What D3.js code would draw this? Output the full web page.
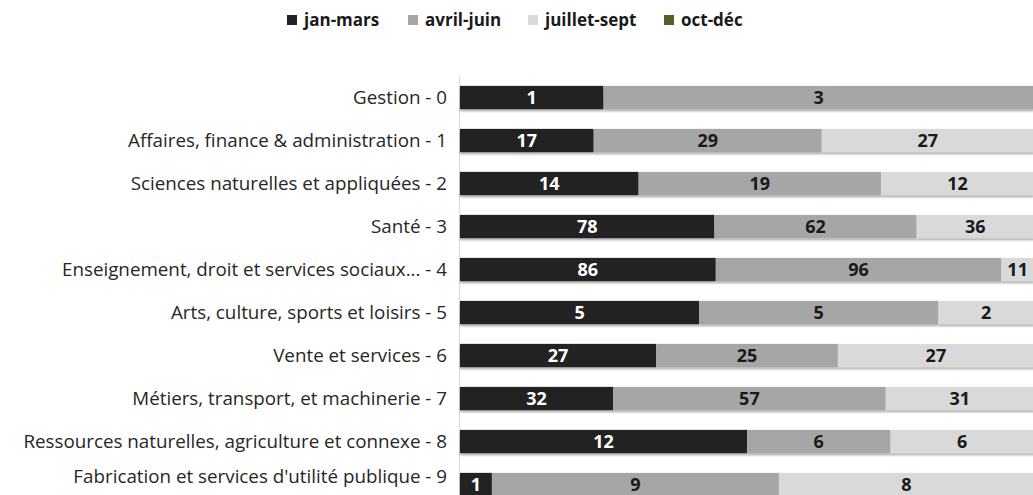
<!DOCTYPE html>
<html>
<head>
<meta charset="utf-8">
<script src="https://cdn.jsdelivr.net/npm/d3@7"></script>
<style>
  body { margin: 0; background: #fff; }
  text { font-family: "Open Sans", sans-serif; }
</style>
</head>
<body>
<svg id="chart" width="1033" height="495"></svg>
<script>
var categories = [
  "Gestion - 0",
  "Affaires, finance & administration - 1",
  "Sciences naturelles et appliquées - 2",
  "Santé - 3",
  "Enseignement, droit et services sociaux... - 4",
  "Arts, culture, sports et loisirs - 5",
  "Vente et services - 6",
  "Métiers, transport, et machinerie - 7",
  "Ressources naturelles, agriculture et connexe - 8",
  "Fabrication et services d'utilité publique - 9"
];
var series = ["jan-mars", "avril-juin", "juillet-sept", "oct-déc"];
var janMars   = [1, 17, 14, 78, 86, 5, 27, 32, 12, 1];
var avrilJuin = [3, 29, 19, 62, 96, 5, 25, 57, 6, 9];
var juilSept  = [0, 27, 12, 36, 11, 2, 27, 31, 6, 8];
var octDec    = [0, 0, 0, 0, 0, 0, 0, 0, 0, 0];
var colors = ["#222222", "#a6a6a6", "#d9d9d9", "#4f6228"];
var labelColors = ["#ffffff", "#1a1a1a", "#1a1a1a", "#ffffff"];

var rows = categories.map(function(c, i) {
  return {cat: c, "jan-mars": janMars[i], "avril-juin": avrilJuin[i],
          "juillet-sept": juilSept[i], "oct-déc": octDec[i]};
});

var svg = d3.select("#chart");

var defs = svg.append("defs");
var f = defs.append("filter").attr("id", "shadow")
  .attr("x", "-5%").attr("y", "-20%").attr("width", "110%").attr("height", "160%");
f.append("feDropShadow").attr("dx", 0).attr("dy", 2).attr("stdDeviation", 1.2)
  .attr("flood-color", "#000").attr("flood-opacity", 0.35);

var x = d3.scaleLinear().domain([0, 1]).range([460, 1034]);
var y = d3.scaleBand().domain(categories).range([76, 506])
  .paddingInner(0.46).paddingOuter(0.23);

var stack = d3.stack().keys(series).offset(d3.stackOffsetExpand);
var layers = stack(rows);

// axis line
svg.append("line")
  .attr("x1", 459.5).attr("x2", 459.5)
  .attr("y1", 75).attr("y2", 495)
  .attr("stroke", "#d9d9d9").attr("stroke-width", 1);

// category labels (last one pushed up so it stays inside the frame)
svg.append("g").selectAll("text")
  .data(categories)
  .enter().append("text")
  .attr("x", 447)
  .attr("y", function(d) { return Math.min(y(d) + y.bandwidth() / 2, 476.5); })
  .attr("dy", "0.35em")
  .attr("text-anchor", "end")
  .attr("font-size", "18.8px")
  .attr("fill", "#262626")
  .text(function(d) { return d; });

var g = svg.append("g").attr("filter", "url(#shadow)");

layers.forEach(function(layer, k) {
  var lg = g.append("g").attr("class", "layer");
  lg.selectAll("rect")
    .data(layer.filter(function(d) { return d[1] - d[0] > 0; }))
    .enter().append("rect")
    .attr("x", function(d) { return x(d[0]); })
    .attr("y", function(d) { return y(d.data.cat); })
    .attr("width", function(d) { return x(d[1]) - x(d[0]); })
    .attr("height", y.bandwidth())
    .attr("fill", colors[k]);
});

layers.forEach(function(layer, k) {
  svg.append("g").selectAll("text")
    .data(layer.filter(function(d) { return d[1] - d[0] > 0; }))
    .enter().append("text")
    .attr("x", function(d) { return (x(d[0]) + x(d[1])) / 2; })
    .attr("y", function(d) { return y(d.data.cat) + y.bandwidth() / 2; })
    .attr("dy", "0.36em")
    .attr("text-anchor", "middle")
    .attr("font-size", "18px")
    .attr("font-weight", "bold")
    .attr("fill", labelColors[k])
    .text(function(d) { return d.data[layer.key]; });
});

// legend
var legendX = [287, 408, 528, 664];
var legend = svg.append("g").selectAll("g")
  .data(series)
  .enter().append("g")
  .attr("transform", function(d, i) { return "translate(" + legendX[i] + ",0)"; });
legend.append("rect")
  .attr("x", 0).attr("y", 15).attr("width", 10).attr("height", 10)
  .attr("fill", function(d, i) { return colors[i]; });
legend.append("text")
  .attr("x", 17).attr("y", 20).attr("dy", "0.35em")
  .attr("font-size", "17px").attr("font-weight", "bold")
  .attr("fill", "#1a1a1a")
  .text(function(d) { return d; });
</script>
</body>
</html>
